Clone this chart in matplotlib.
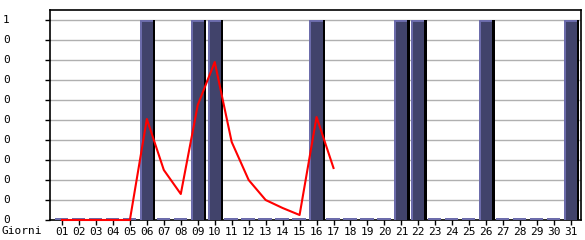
import numpy as np
import matplotlib.pyplot as plt
from matplotlib import transforms

# ----- data -----
days = np.arange(1, 32)
day_labels = ['%02d' % d for d in days]
bar_days = [6, 9, 10, 16, 21, 22, 26, 31]
bar_vals = np.array([1.0 if d in bar_days else 0.0 for d in days])
line_days = np.arange(1, 18)
line_vals = [0, 0, 0, 0, 0, 0.505, 0.25, 0.13, 0.575, 0.79,
             0.39, 0.2, 0.1, 0.06, 0.025, 0.515, 0.26]
ytick_vals = np.arange(0, 1.01, 0.1)
ytick_labels = ['0'] * 10 + ['1']

W, H = 585, 240
px = 1 / 16.97   # one pixel in day units
py = 1 / 200.0   # one pixel in value units

fig = plt.figure(figsize=(W / 100, H / 100), dpi=100)
ax = fig.add_axes([50 / W, 20 / H, 531 / W, 210 / H])
ax.set_xlim(1 - 12 * px, 1 + 519 * px)
ax.set_ylim(0, 1.05)

for v in ytick_vals[1:]:
    ax.axhline(v, color='#b0b0b0', lw=1.0, zorder=1)

# bars: black shadow on right, light edge on top/left, dark face
h = np.maximum(bar_vals, 2 * py)
x0 = days - 7.2 * px
ax.bar(x0, bar_vals, width=15.5 * px, align='edge', color='black', zorder=2, lw=0)
ax.bar(x0, h, width=13.3 * px, align='edge', color='#6c6cab', zorder=3, lw=0)
face = np.where(bar_vals > 0, bar_vals - 1.5 * py, 0)
ax.bar(x0 + 2 * px, face, width=11.3 * px, align='edge', color='#41436b', zorder=4, lw=0)

ax.plot(line_days, line_vals, color='#ff0000', lw=1.5, zorder=5, clip_on=False)

ax.set_xticks(days)
ax.set_xticklabels(day_labels, family='DejaVu Sans Mono', fontsize=8)
ax.tick_params(axis='x', length=3.5, width=1, pad=1.5, color='black')
ax.set_yticks(ytick_vals)
ax.set_yticklabels([])
ax.tick_params(axis='y', length=3.6, width=1, color='black')

for s in ax.spines.values():
    s.set_color('black')
    s.set_linewidth(1.2)

tr = transforms.blended_transform_factory(fig.transFigure, ax.transData)
for v, lab in zip(ytick_vals, ytick_labels):
    ax.text(3 / W, v, lab, transform=tr, ha='left', va='center',
            family='DejaVu Sans Mono', fontsize=8)
fig.text(2 / W, 1 - 231 / H, 'Giorni', ha='left', va='center',
         family='DejaVu Sans Mono', fontsize=8)

fig.savefig('out.png', dpi=100)
